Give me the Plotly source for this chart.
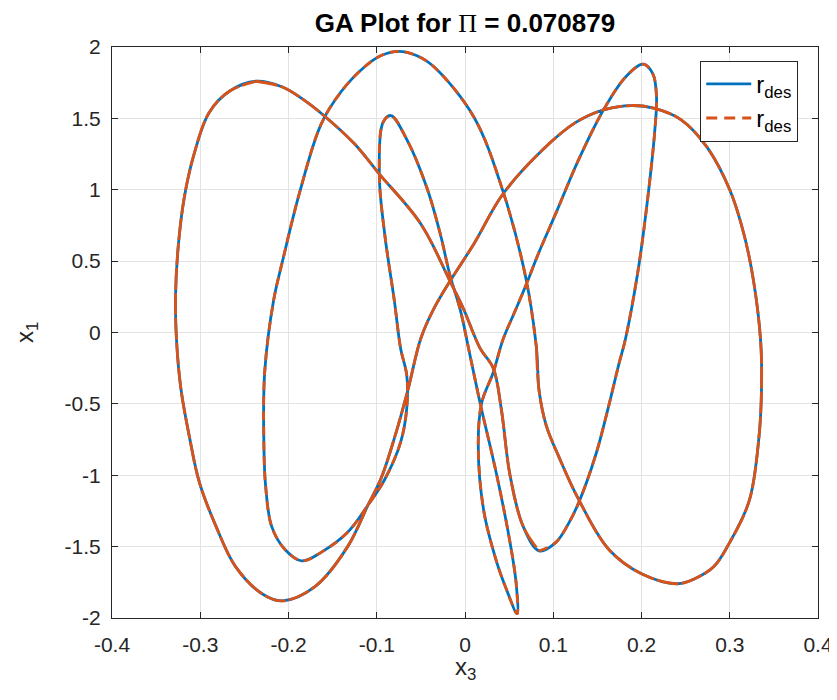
import plotly.graph_objects as go

# Trajectory (x3, x1), split into three consecutive branches
# Branch A: from the top of the left lobe down to the small dip near x3=0.085
a_x3 = [-0.237, -0.207, -0.185, -0.158, -0.125, -0.097, -0.050, -0.017, -0.002, 0.017,
        0.032, 0.041, 0.051, 0.066, 0.084]
a_x1 = [1.76, 1.72, 1.64, 1.51, 1.32, 1.11, 0.76, 0.36, 0.17, -0.11,
        -0.25, -0.53, -1.00, -1.36, -1.53]

# Branch B: dip -> right peak -> bottom cusp -> inner loop -> tall loop
b_x3 = [0.084, 0.103, 0.118, 0.129, 0.148, 0.163, 0.174, 0.182, 0.197, 0.208,
        0.215, 0.217, 0.213, 0.202, 0.182, 0.157, 0.128, 0.104, 0.083, 0.069,
        0.056, 0.043, 0.032, 0.019, 0.015, 0.021, 0.036, 0.047, 0.059, 0.058,
        0.051, 0.036, 0.017, 0.004, -0.005, -0.017, -0.028, -0.043, -0.065, -0.084,
        -0.093, -0.097, -0.091, -0.080, -0.073, -0.066, -0.066, -0.073, -0.091, -0.110,
        -0.133, -0.163, -0.185, -0.204, -0.219, -0.226, -0.228, -0.227, -0.217, -0.206,
        -0.187, -0.163, -0.140, -0.114, -0.095, -0.075, -0.055, -0.035, 0.010, 0.043,
        0.069, 0.081]
b_x1 = [-1.53, -1.47, -1.33, -1.19, -0.86, -0.51, -0.23, -0.04, 0.47, 0.99,
        1.41, 1.65, 1.81, 1.88, 1.79, 1.56, 1.20, 0.85, 0.55, 0.33,
        0.14, -0.05, -0.28, -0.49, -0.77, -1.24, -1.61, -1.80, -1.97, -1.76,
        -1.47, -1.00, -0.49, -0.11, 0.15, 0.40, 0.69, 1.01, 1.34, 1.52,
        1.47, 1.09, 0.69, 0.22, -0.11, -0.30, -0.53, -0.77, -1.03, -1.21,
        -1.40, -1.54, -1.60, -1.52, -1.36, -1.07, -0.74, -0.28, 0.22, 0.52,
        0.99, 1.46, 1.69, 1.86, 1.94, 1.97, 1.94, 1.86, 1.51, 0.99,
        0.38, -0.11]

# Branch C: right lobe -> long diagonal -> left lobe, back to the start
c_x3 = [0.081, 0.084, 0.092, 0.107, 0.128, 0.163, 0.200, 0.241, 0.262, 0.282,
        0.300, 0.322, 0.333, 0.336, 0.335, 0.327, 0.316, 0.300, 0.274, 0.245,
        0.215, 0.189, 0.157, 0.125, 0.088, 0.043, 0.010, -0.017, -0.035, -0.050,
        -0.065, -0.080, -0.095, -0.110, -0.133, -0.170, -0.207, -0.230, -0.260, -0.282,
        -0.301, -0.312, -0.322, -0.327, -0.328, -0.325, -0.318, -0.307, -0.290, -0.267,
        -0.237]
c_x1 = [-0.11, -0.41, -0.65, -0.88, -1.16, -1.52, -1.69, -1.76, -1.72, -1.64,
        -1.47, -1.18, -0.74, -0.39, -0.06, 0.36, 0.69, 1.00, 1.30, 1.49,
        1.57, 1.59, 1.56, 1.47, 1.28, 0.97, 0.62, 0.36, 0.17, -0.04,
        -0.41, -0.74, -1.02, -1.21, -1.50, -1.78, -1.88, -1.83, -1.64, -1.36,
        -1.05, -0.74, -0.39, -0.04, 0.25, 0.60, 0.95, 1.25, 1.54, 1.69,
        1.76]

x_ticks = [-0.4, -0.3, -0.2, -0.1, 0, 0.1, 0.2, 0.3, 0.4]
x_tick_text = ["-0.4", "-0.3", "-0.2", "-0.1", "0", "0.1", "0.2", "0.3", "0.4"]
y_ticks = [-2, -1.5, -1, -0.5, 0, 0.5, 1, 1.5, 2]
y_tick_text = ["-2", "-1.5", "-1", "-0.5", "0", "0.5", "1", "1.5", "2"]

title_value = "0.070879"
legend_name = "r<sub>des</sub>"

BLUE = "#0072BD"
ORANGE = "#D95319"
DARK = "#262626"
FONT = "Liberation Sans"
LW = 2.8

all_x3 = a_x3 + b_x3[1:] + c_x3[1:]
all_x1 = a_x1 + b_x1[1:] + c_x1[1:]

fig = go.Figure()
fig.add_trace(go.Scatter(
    x=all_x3, y=all_x1, mode="lines", name=legend_name,
    line=dict(color=BLUE, width=LW, shape="spline", smoothing=1.0),
))
branches = [(a_x3, a_x1, "22px,3px"), (b_x3, b_x1, "9px,6px"), (c_x3, c_x1, "22px,3px")]
for bx, by, dash in branches:
    fig.add_trace(go.Scatter(
        x=bx, y=by, mode="lines", name=legend_name,
        line=dict(color=ORANGE, width=LW, dash=dash, shape="spline", smoothing=1.0),
        showlegend=False,
    ))
# legend sample for the dashed series
fig.add_trace(go.Scatter(
    x=[None], y=[None], mode="lines", name=legend_name,
    line=dict(color=ORANGE, width=LW, dash="11px,7px"),
))

axis_common = dict(
    showgrid=True, gridcolor="#e3e3e3", gridwidth=1,
    zeroline=False, showline=True, linecolor=DARK, linewidth=1,
    mirror="ticks", ticks="inside", ticklen=6, tickcolor=DARK,
    tickfont=dict(family=FONT, size=21, color=DARK),
)

fig.update_layout(
    width=837, height=700,
    margin=dict(l=104, r=19, t=39, b=90),
    paper_bgcolor="white", plot_bgcolor="white",
    title=dict(
        text="<b>GA Plot for <span style='font-family:Liberation Serif;font-weight:normal'>Π</span> = "
             + title_value + "</b>",
        x=0.5, xref="paper", xanchor="center", y=0.979, yanchor="middle",
        font=dict(family=FONT, size=26, color="black"),
    ),
    xaxis=dict(
        range=[-0.4, 0.4], tickvals=x_ticks, ticktext=x_tick_text,
        ticklabelstandoff=8,
        **axis_common,
    ),
    yaxis=dict(
        range=[-2, 2], tickvals=y_ticks, ticktext=y_tick_text,
        ticklabelstandoff=6,
        **axis_common,
    ),
    annotations=[
        dict(text="x<sub>3</sub>", xref="paper", yref="paper", x=0.5, y=-0.058,
             xanchor="center", yanchor="top", showarrow=False,
             font=dict(family=FONT, size=24, color=DARK)),
        dict(text="x<sub>1</sub>", xref="paper", yref="paper", x=-0.121, y=0.5,
             xanchor="center", yanchor="middle", showarrow=False, textangle=-90,
             font=dict(family=FONT, size=24, color=DARK)),
    ],
    legend=dict(
        x=0.972, y=0.976, xanchor="right", yanchor="top",
        bgcolor="white", bordercolor=DARK, borderwidth=1,
        font=dict(family=FONT, size=24, color="black"),
        itemwidth=45,
    ),
    showlegend=True,
)

fig.write_html("out.html")
